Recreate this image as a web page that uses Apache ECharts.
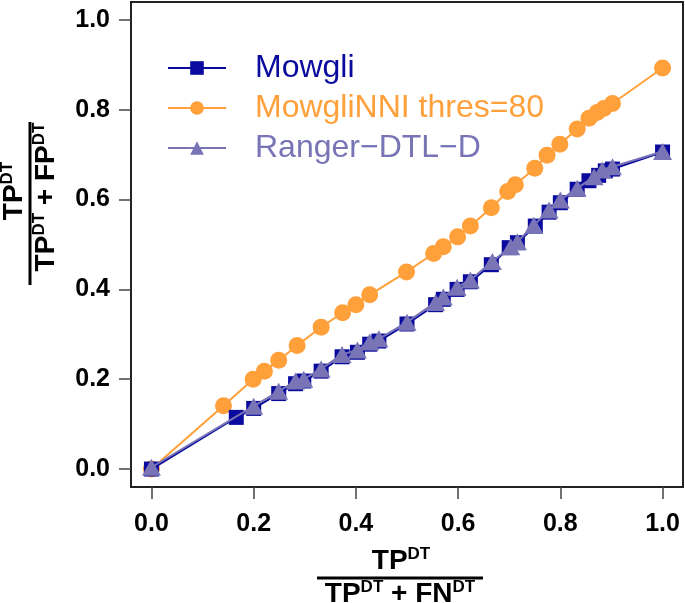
<!DOCTYPE html>
<html>
<head>
<meta charset="utf-8">
<title>Precision vs recall</title>
<script src="https://cdn.jsdelivr.net/npm/echarts@6/dist/echarts.min.js"></script>
<style>
  html, body { margin: 0; padding: 0; background: #fff; }
  #chart { width: 685px; height: 603px; }
</style>
</head>
<body>
<div id="chart"></div>
<script>
// recall (x) / precision (y) for each method
const tickValues = [0, 0.2, 0.4, 0.6, 0.8, 1.0];

const mowgliX = [0, 0.166, 0.200, 0.249, 0.282, 0.298, 0.332, 0.373, 0.403, 0.427, 0.445, 0.500, 0.556, 0.571, 0.598, 0.624, 0.665, 0.700, 0.716, 0.751, 0.778, 0.800, 0.833, 0.856, 0.875, 0.888, 0.902, 1.0];
const mowgliY = [0, 0.115, 0.135, 0.168, 0.190, 0.196, 0.218, 0.250, 0.260, 0.278, 0.285, 0.323, 0.366, 0.378, 0.400, 0.417, 0.455, 0.493, 0.504, 0.541, 0.572, 0.593, 0.623, 0.642, 0.654, 0.664, 0.668, 0.706];

const nniX = [0, 0.141, 0.199, 0.221, 0.249, 0.285, 0.332, 0.374, 0.400, 0.427, 0.499, 0.552, 0.571, 0.599, 0.624, 0.665, 0.697, 0.712, 0.750, 0.774, 0.799, 0.833, 0.856, 0.872, 0.885, 0.902, 1.0];
const nniY = [0, 0.141, 0.200, 0.218, 0.242, 0.275, 0.316, 0.348, 0.366, 0.388, 0.439, 0.480, 0.495, 0.517, 0.541, 0.582, 0.618, 0.633, 0.670, 0.699, 0.723, 0.757, 0.781, 0.794, 0.803, 0.814, 0.893];

const rangerX = [0, 0.200, 0.249, 0.282, 0.298, 0.332, 0.373, 0.403, 0.427, 0.445, 0.500, 0.556, 0.571, 0.598, 0.624, 0.667, 0.703, 0.716, 0.748, 0.778, 0.800, 0.833, 0.866, 0.882, 0.902, 1.0];
const rangerY = [0.004, 0.140, 0.173, 0.196, 0.200, 0.223, 0.255, 0.265, 0.283, 0.290, 0.327, 0.371, 0.383, 0.405, 0.421, 0.462, 0.495, 0.506, 0.543, 0.577, 0.599, 0.625, 0.651, 0.666, 0.673, 0.707];

const seriesNames = ['Mowgli', 'MowgliNNI thres=80', 'Ranger\u2212DTL\u2212D'];
const seriesColors = ['#0a0a9e', '#ffa03a', '#7874b6'];

function pairs(xs, ys) {
  return xs.map((x, i) => [x, ys[i]]);
}

const chart = echarts.init(document.getElementById('chart'));

const rich = {
  a: { fontSize: 28, fontWeight: 'bold', color: '#000', lineHeight: 30, fontFamily: 'Liberation Sans' },
  b: { fontSize: 17, fontWeight: 'bold', color: '#000', lineHeight: 17, verticalAlign: 'top', fontFamily: 'Liberation Sans' }
};

const tickStyle = { customValues: tickValues, length: 12, lineStyle: { color: '#444', width: 1.5 } };
const labelStyle = {
  customValues: tickValues,
  fontSize: 25, fontWeight: 'bold', color: '#000',
  formatter: v => v.toFixed(1)
};

const option = {
  animation: false,
  textStyle: { fontFamily: 'Liberation Sans' },
  grid: {
    left: 131, right: 2, top: 2, bottom: 116,
    show: true, borderColor: '#222', borderWidth: 2
  },
  legend: {
    orient: 'vertical',
    left: 162,
    top: 47,
    itemWidth: 58,
    itemHeight: 17,
    itemGap: 8,
    textStyle: { fontSize: 32, padding: [0, 0, 0, 24], lineHeight: 32 },
    data: seriesNames.map((n, i) => ({ name: n, textStyle: { color: seriesColors[i] } }))
  },
  xAxis: {
    type: 'value',
    min: -0.04, max: 1.04,
    axisLine: { show: false, onZero: false },
    splitLine: { show: false },
    axisTick: tickStyle,
    axisLabel: Object.assign({ margin: 25 }, labelStyle)
  },
  yAxis: {
    type: 'value',
    min: -0.04, max: 1.04,
    axisLine: { show: false, onZero: false },
    splitLine: { show: false },
    axisTick: tickStyle,
    axisLabel: Object.assign({ margin: 21 }, labelStyle)
  },
  graphic: [
    // x axis title
    { type: 'text', x: 401, y: 561, style: { text: '{a|TP}{b|DT}', rich: rich, align: 'center', verticalAlign: 'middle' } },
    { type: 'line', shape: { x1: 317, y1: 578, x2: 483, y2: 578 }, style: { stroke: '#000', lineWidth: 3 } },
    { type: 'text', x: 400, y: 594, style: { text: '{a|TP}{b|DT}{a| + FN}{b|DT}', rich: rich, align: 'center', verticalAlign: 'middle' } },
    // y axis title
    { type: 'text', x: 14, y: 191, rotation: Math.PI / 2, style: { text: '{a|TP}{b|DT}', rich: rich, align: 'center', verticalAlign: 'middle' } },
    { type: 'line', shape: { x1: 30, y1: 122, x2: 30, y2: 285 }, style: { stroke: '#000', lineWidth: 3 } },
    { type: 'text', x: 46, y: 197, rotation: Math.PI / 2, style: { text: '{a|TP}{b|DT}{a| + FP}{b|DT}', rich: rich, align: 'center', verticalAlign: 'middle' } }
  ],
  series: [
    {
      name: seriesNames[1], type: 'line', z: 2,
      data: pairs(nniX, nniY),
      symbol: 'circle', symbolSize: 17,
      lineStyle: { color: seriesColors[1], width: 2 },
      itemStyle: { color: seriesColors[1] }
    },
    {
      name: seriesNames[0], type: 'line', z: 3,
      data: pairs(mowgliX, mowgliY),
      symbol: 'rect', symbolSize: 15,
      lineStyle: { color: seriesColors[0], width: 2 },
      itemStyle: { color: seriesColors[0] }
    },
    {
      name: seriesNames[2], type: 'line', z: 4,
      data: pairs(rangerX, rangerY),
      symbol: 'triangle', symbolSize: [19, 17],
      lineStyle: { color: seriesColors[2], width: 2 },
      itemStyle: { color: seriesColors[2] }
    }
  ]
};

chart.setOption(option);
window.addEventListener('resize', () => chart.resize());
</script>
</body>
</html>
